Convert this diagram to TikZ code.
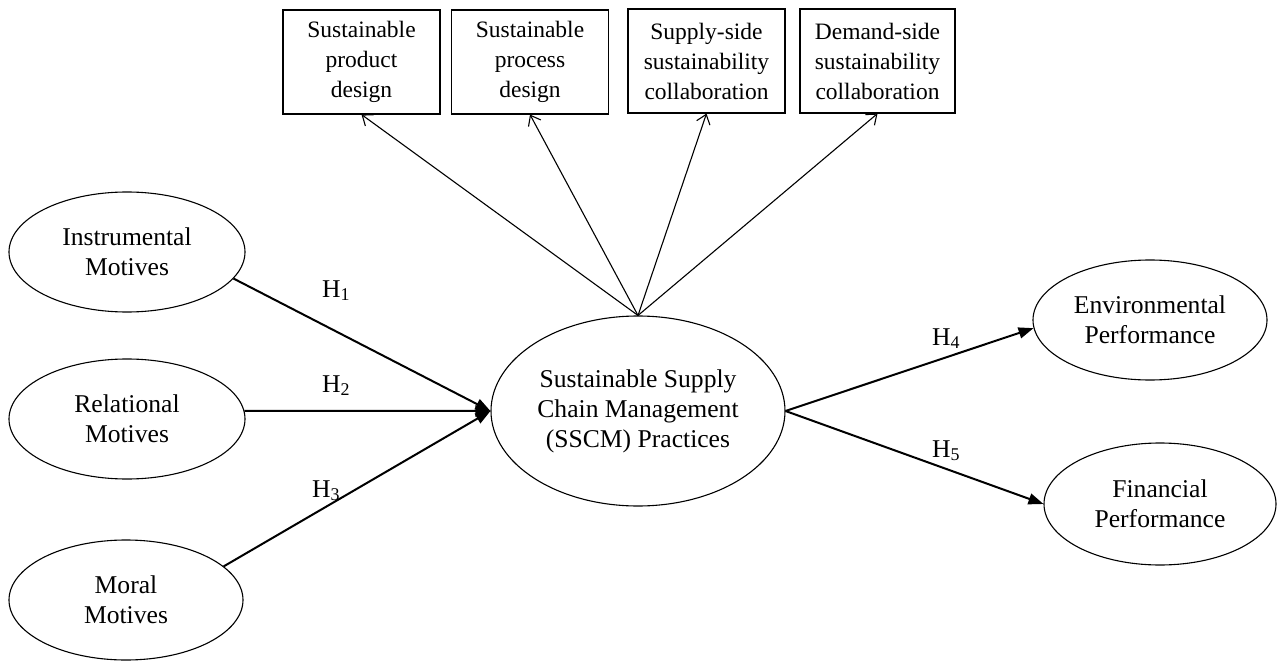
\documentclass[tikz,border=0pt]{standalone}
\usepackage{fontspec}
\setmainfont{Liberation Serif}
\usetikzlibrary{shapes.geometric,arrows.meta}
\begin{document}
\begin{tikzpicture}[x=1pt,y=-1pt,
  ell/.style={draw,ellipse,line width=1.1pt,inner sep=0pt,minimum width=236pt,minimum height=120pt,align=center,font=\fontsize{25.6}{30}\selectfont},
  box/.style={draw,rectangle,line width=1.1pt,inner sep=0pt,minimum width=157pt,minimum height=104pt,align=center,font=\fontsize{23.5}{30}\selectfont},
  hyp/.style={-{Triangle[length=15pt,width=11pt]},line width=2pt},
  ind/.style={-{Straight Barb[length=9pt,width=14pt]},line width=1.1pt},
  lab/.style={anchor=base west,inner sep=0pt,font=\fontsize{25.6}{30}\selectfont}]
\useasboundingbox (0,0) rectangle (1278,661);
\node[ell] (inst) at (127,252) {Instrumental\\Motives};
\node[ell] (rel) at (127,419) {Relational\\Motives};
\node[ell,minimum width=234pt] (moral) at (126,600) {Moral\\Motives};
\node[ell,minimum width=294pt,minimum height=190pt] (ssc) at (638,411) {Sustainable Supply\\Chain Management\\(SSCM) Practices};
\node[ell,minimum width=234pt,minimum height=120pt] (env) at (1150,320) {Environmental\\Performance};
\node[ell,minimum width=232pt,minimum height=122pt] (fin) at (1160,504) {Financial\\Performance};
\node[box] (b1) at (361.5,62) {Sustainable\\product\\design};
\node[box] (b2) at (530,62) {Sustainable\\process\\design};
\node[box] (b3) at (706.5,61) {Supply-side\\sustainability\\collaboration};
\node[box,minimum width=155pt] (b4) at (877.5,61) {Demand-side\\sustainability\\collaboration};
\draw[hyp] (inst.-14) -- (ssc.west);
\draw[hyp] (rel.4) -- (ssc.west);
\draw[hyp] (moral.19) -- (ssc.west);
\draw[hyp] (ssc.east) -- (env.184);
\draw[hyp] (ssc.east) -- (fin.west);
\foreach \b in {b1,b2,b3,b4} \draw[ind] (ssc.north) -- (\b.south);
\node[lab] (h1) at (322,297) {H\textsubscript{1}};
\node[lab] (h2) at (322,392) {H\textsubscript{2}};
\node[lab] (h3) at (312,497) {H\textsubscript{3}};
\node[lab] (h4) at (932,345) {H\textsubscript{4}};
\node[lab] (h5) at (932,457) {H\textsubscript{5}};
\end{tikzpicture}
\end{document}
